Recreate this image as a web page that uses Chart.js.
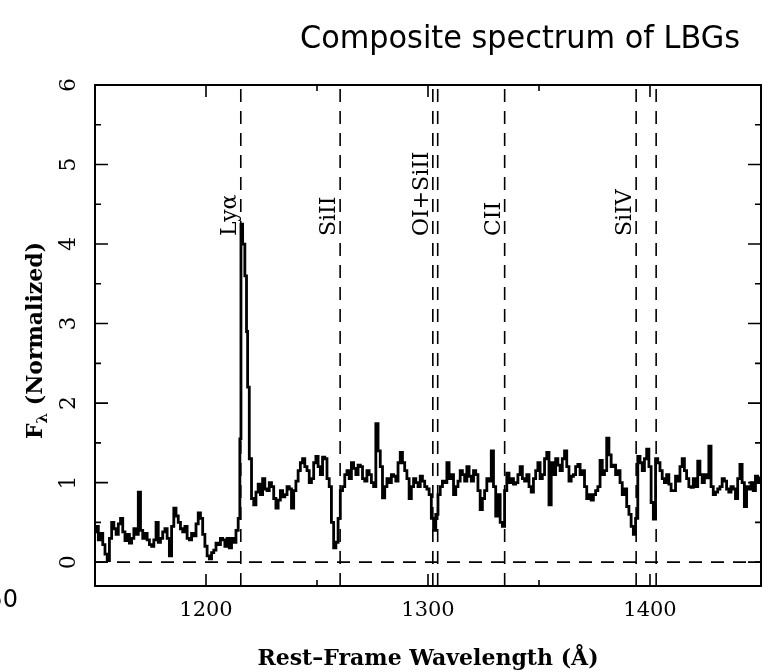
<!DOCTYPE html>
<html>
<head>
<meta charset="utf-8">
<title>Composite spectrum of LBGs</title>
<script src="https://cdn.jsdelivr.net/npm/chart.js@4.4.1/dist/chart.umd.min.js"></script>
<style>
  html, body { margin: 0; padding: 0; background: #fff; }
  #wrap { width: 773px; height: 672px; }
</style>
</head>
<body>
<div id="wrap"><canvas id="spectrum"></canvas></div>
<script>
const wavelengths = [
  1150, 1151, 1152, 1153, 1154, 1155, 1156, 1157, 1158, 1159,
  1160, 1161, 1162, 1163, 1164, 1165, 1166, 1167, 1168, 1169,
  1170, 1171, 1172, 1173, 1174, 1175, 1176, 1177, 1178, 1179,
  1180, 1181, 1182, 1183, 1184, 1185, 1186, 1187, 1188, 1189,
  1190, 1191, 1192, 1193, 1194, 1195, 1196, 1197, 1198, 1199,
  1200, 1201, 1202, 1203, 1204, 1205, 1206, 1207, 1208, 1209,
  1210, 1211, 1212, 1213, 1214, 1215, 1215.5, 1216, 1217, 1218,
  1218.5, 1219, 1220, 1221, 1222, 1223, 1224, 1225, 1226, 1227,
  1228, 1229, 1230, 1231, 1232, 1233, 1234, 1235, 1236, 1237,
  1238, 1239, 1240, 1241, 1242, 1243, 1244, 1245, 1246, 1247,
  1248, 1249, 1250, 1251, 1252, 1253, 1254, 1255, 1256, 1257,
  1258, 1259, 1260, 1261, 1262, 1263, 1264, 1265, 1266, 1267,
  1268, 1269, 1270, 1271, 1272, 1273, 1274, 1275, 1276, 1277,
  1278, 1279, 1280, 1281, 1282, 1283, 1284, 1285, 1286, 1287,
  1288, 1289, 1290, 1291, 1292, 1293, 1294, 1295, 1296, 1297,
  1298, 1299, 1300, 1301, 1302, 1303, 1304, 1305, 1306, 1307,
  1308, 1309, 1310, 1311, 1312, 1313, 1314, 1315, 1316, 1317,
  1318, 1319, 1320, 1321, 1322, 1323, 1324, 1325, 1326, 1327,
  1328, 1329, 1330, 1331, 1332, 1333, 1334, 1335, 1336, 1337,
  1338, 1339, 1340, 1341, 1342, 1343, 1344, 1345, 1346, 1347,
  1348, 1349, 1350, 1351, 1352, 1353, 1354, 1355, 1356, 1357,
  1358, 1359, 1360, 1361, 1362, 1363, 1364, 1365, 1366, 1367,
  1368, 1369, 1370, 1371, 1372, 1373, 1374, 1375, 1376, 1377,
  1378, 1379, 1380, 1381, 1382, 1383, 1384, 1385, 1386, 1387,
  1388, 1389, 1390, 1391, 1392, 1393, 1394, 1395, 1396, 1397,
  1398, 1399, 1400, 1401, 1402, 1403, 1404, 1405, 1406, 1407,
  1408, 1409, 1410, 1411, 1412, 1413, 1414, 1415, 1416, 1417,
  1418, 1419, 1420, 1421, 1422, 1423, 1424, 1425, 1426, 1427,
  1428, 1429, 1430, 1431, 1432, 1433, 1434, 1435, 1436, 1437,
  1438, 1439, 1440, 1441, 1442, 1443, 1444, 1445, 1446, 1447,
  1448, 1449, 1450
];
const flux = [
  0.38, 0.45, 0.28, 0.36, 0.22, 0.10, 0.02, 0.30, 0.50, 0.42,
  0.35, 0.48, 0.55, 0.38, 0.27, 0.35, 0.24, 0.30, 0.42, 0.35,
  0.88, 0.40, 0.30, 0.36, 0.28, 0.22, 0.20, 0.28, 0.50, 0.25,
  0.30, 0.38, 0.42, 0.30, 0.08, 0.45, 0.68, 0.58, 0.50, 0.42,
  0.38, 0.45, 0.30, 0.28, 0.36, 0.33, 0.48, 0.62, 0.55, 0.35,
  0.20, 0.08, 0.04, 0.12, 0.15, 0.24, 0.22, 0.30, 0.28, 0.20,
  0.30, 0.18, 0.30, 0.25, 0.40, 0.55, 1.55, 4.25, 4.00, 3.60,
  2.90, 2.20, 1.30, 0.80, 0.72, 0.88, 0.98, 0.85, 1.05, 0.92,
  0.90, 1.00, 0.95, 0.80, 0.68, 0.78, 0.90, 0.82, 0.85, 0.95,
  0.92, 0.68, 0.90, 1.02, 1.15, 1.25, 1.30, 1.20, 1.15, 1.00,
  1.05, 1.25, 1.33, 1.20, 1.10, 1.32, 1.30, 1.05, 0.95, 0.50,
  0.18, 0.25, 0.55, 0.90, 0.95, 1.10, 1.15, 1.05, 1.25, 1.18,
  1.10, 1.22, 1.20, 1.05, 1.02, 1.15, 1.10, 1.00, 0.95, 1.74,
  1.40, 1.20, 0.81, 0.95, 1.05, 1.00, 1.10, 1.08, 1.02, 1.25,
  1.38, 1.25, 1.15, 1.05, 0.80, 0.95, 1.05, 1.00, 0.95, 1.08,
  1.02, 0.95, 0.92, 0.85, 0.55, 0.40, 0.60, 0.85, 0.95, 1.02,
  1.00, 1.25, 1.05, 1.10, 0.85, 0.95, 1.02, 1.15, 1.10, 1.02,
  1.20, 1.08, 1.02, 1.15, 1.10, 0.90, 0.66, 0.80, 0.90, 1.05,
  1.02, 1.40, 0.95, 0.58, 0.85, 0.50, 0.45, 0.90, 1.12, 1.00,
  1.05, 0.98, 1.00, 1.10, 1.20, 1.05, 1.02, 1.10, 0.95, 0.88,
  1.05, 1.15, 1.25, 1.05, 1.10, 1.30, 1.38, 0.72, 1.25, 1.10,
  1.30, 1.22, 1.15, 1.30, 1.40, 1.20, 1.02, 1.08, 1.10, 1.20,
  1.23, 1.10, 1.15, 0.95, 0.80, 0.85, 0.78, 0.85, 0.90, 0.95,
  1.28, 1.10, 1.15, 1.56, 1.35, 1.20, 1.22, 1.10, 1.15, 1.00,
  0.85, 0.92, 0.70, 0.60, 0.45, 0.35, 0.55, 1.33, 1.25, 1.15,
  1.30, 1.42, 1.20, 0.75, 0.54, 1.30, 1.25, 1.15, 1.05, 1.00,
  1.10, 0.98, 0.90, 0.90, 1.08, 1.02, 1.20, 1.30, 1.15, 1.05,
  0.95, 0.94, 1.05, 0.95, 1.27, 1.10, 1.00, 1.10, 1.06, 1.46,
  0.95, 0.85, 0.88, 0.92, 0.95, 1.05, 1.02, 0.92, 0.88, 0.95,
  0.92, 0.80, 1.05, 1.23, 1.00, 0.70, 0.95, 0.92, 1.00, 0.90,
  1.08, 1.00, 1.06
];

// features marked with dashed lines
const lineWaves = [1215.67, 1260.42, 1302.17, 1304.37, 1334.53, 1393.76, 1402.77];
const lineLabels = ['Lyα', 'SiII', 'OI+SiII', 'CII', 'SiIV'];
const labelWaves = [1215.67, 1260.42, 1302.17, 1334.53, 1393.76];
const labelFlux = 4.1;

// axes
const xMin = 1150, xMax = 1450;
const yMin = -0.3, yMax = 6;
const xTicks = [1150, 1200, 1250, 1300, 1350, 1400, 1450];
const xTickLabels = [1200, 1300, 1400];
const yTicks = [0, 1, 2, 3, 4, 5, 6];

const serif = '"DejaVu Serif", "Liberation Serif", serif';
const sans = '"DejaVu Sans", Verdana, sans-serif';

const dashed = (pts) => ({
  data: pts,
  borderColor: '#000',
  borderWidth: 1.6,
  borderDash: [13, 9],
  pointRadius: 0,
  fill: false,
});

const datasets = [
  {
    label: 'Composite',
    data: wavelengths.map((w, i) => ({ x: w, y: flux[i] })),
    borderColor: '#000',
    borderWidth: 2.8,
    pointRadius: 0,
    stepped: 'middle',
    fill: false,
  },
  dashed([{ x: xMin, y: 0 }, { x: xMax, y: 0 }]),
];
lineWaves.forEach(w => datasets.push(dashed([{ x: w, y: yMin }, { x: w, y: yMax }])));

// frame, inside ticks, feature names, titles
const decorations = {
  id: 'decorations',
  afterDraw(chart) {
    const { ctx, chartArea: a, scales } = chart;
    const xs = scales.x, ys = scales.y;
    ctx.save();
    ctx.strokeStyle = '#000';
    ctx.fillStyle = '#000';
    ctx.lineWidth = 2;
    ctx.strokeRect(a.left, a.top, a.right - a.left, a.bottom - a.top);

    ctx.lineWidth = 1.6;
    ctx.beginPath();
    for (let v = 1150; v <= 1450; v += 50) {
      const px = xs.getPixelForValue(v);
      const len = xTickLabels.includes(v) ? 12 : 6;
      ctx.moveTo(px, a.bottom); ctx.lineTo(px, a.bottom - len);
      ctx.moveTo(px, a.top); ctx.lineTo(px, a.top + len);
    }
    for (let v = 0; v <= 6; v += 0.5) {
      const py = ys.getPixelForValue(v);
      const len = Number.isInteger(v) ? 13 : 6;
      ctx.moveTo(a.left, py); ctx.lineTo(a.left + len, py);
      ctx.moveTo(a.right, py); ctx.lineTo(a.right - len, py);
    }
    ctx.stroke();

    // feature names, rotated, reading upwards
    ctx.font = '22px ' + serif;
    ctx.textAlign = 'left';
    ctx.textBaseline = 'alphabetic';
    lineLabels.forEach((t, i) => {
      ctx.save();
      ctx.translate(xs.getPixelForValue(labelWaves[i]) - 5, ys.getPixelForValue(labelFlux));
      ctx.rotate(-Math.PI / 2);
      ctx.fillText(t, 0, 0);
      ctx.restore();
    });

    // y title with subscript lambda
    ctx.save();
    ctx.translate(42, (a.top + a.bottom) / 2 + 5);
    ctx.rotate(-Math.PI / 2);
    ctx.font = 'bold 22px ' + serif;
    const wF = ctx.measureText('F').width;
    ctx.font = 'bold 15px ' + serif;
    const wL = ctx.measureText('λ').width;
    ctx.font = 'bold 22px ' + serif;
    const rest = ' (Normalized)';
    const total = wF + wL + ctx.measureText(rest).width;
    let x0 = -total / 2;
    ctx.textAlign = 'left';
    ctx.fillText('F', x0, 0);
    ctx.fillText(rest, x0 + wF + wL, 0);
    ctx.font = 'bold 15px ' + serif;
    ctx.fillText('λ', x0 + wF, 5);
    ctx.restore();

    // slide title
    ctx.font = '32px ' + sans;
    ctx.textAlign = 'center';
    ctx.textBaseline = 'middle';
    const title = 'Composite spectrum of LBGs';
    const tw = ctx.measureText(title).width;
    ctx.save();
    ctx.translate(520, 40);
    ctx.scale(Math.min(1, 440 / tw), 1);
    ctx.fillText(title, 0, 0);
    ctx.restore();

    // stray tick label at the left edge of the slide
    ctx.font = '24px ' + sans;
    ctx.textAlign = 'right';
    ctx.fillText('1150', 18, 601);
    ctx.restore();
  }
};

new Chart(document.getElementById('spectrum'), {
  type: 'line',
  data: { datasets },
  options: {
    responsive: true,
    maintainAspectRatio: false,
    animation: false,
    devicePixelRatio: 1,
    layout: { padding: { top: 85, right: 8, left: 0, bottom: 0 } },
    plugins: { legend: { display: false }, tooltip: { enabled: false } },
    scales: {
      x: {
        type: 'linear',
        min: xMin,
        max: xMax,
        afterBuildTicks: s => { s.ticks = xTicks.map(v => ({ value: v })); },
        afterFit: s => { s.height = 86; },
        grid: { display: false, drawTicks: false },
        border: { display: false },
        ticks: {
          autoSkip: false,
          maxRotation: 0,
          padding: 12,
          color: '#000',
          font: { family: serif, size: 21 },
          callback: v => xTickLabels.includes(v) ? String(v) : '',
        },
        title: {
          display: true,
          text: 'Rest–Frame Wavelength (Å)',
          color: '#000',
          font: { family: serif, size: 22, weight: 'bold' },
          padding: { top: 0, bottom: 0 },
        },
      },
      y: {
        type: 'linear',
        min: yMin,
        max: yMax,
        afterBuildTicks: s => { s.ticks = yTicks.map(v => ({ value: v })); },
        afterFit: s => { s.width = 95; },
        grid: { display: false, drawTicks: false },
        border: { display: false },
        ticks: {
          minRotation: 90,
          maxRotation: 90,
          crossAlign: 'center',
          padding: 19,
          color: '#000',
          font: { family: serif, size: 22 },
        },
      },
    },
  },
  plugins: [decorations],
});
</script>
</body>
</html>
